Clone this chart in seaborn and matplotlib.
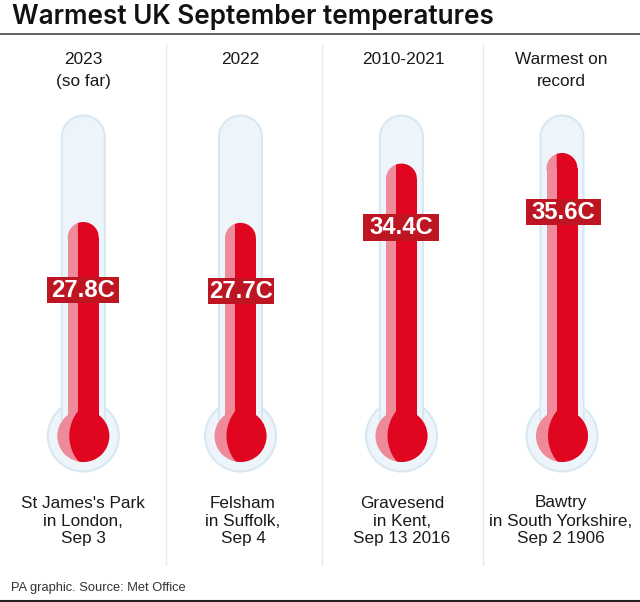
import numpy as np
import pandas as pd
import seaborn as sns
import matplotlib
matplotlib.use("Agg")
import matplotlib.pyplot as plt
from matplotlib.patches import Circle, PathPatch, Polygon, Rectangle
from matplotlib.path import Path
from matplotlib.transforms import Affine2D

# ---- data ----
periods = ["2023\n(so far)", "2022", "2010-2021", "Warmest on\nrecord"]
temps = [27.8, 27.7, 34.4, 35.6]
temp_labels = ["27.8C", "27.7C", "34.4C", "35.6C"]
places = ["St James's Park\nin London,\nSep 3", "Felsham\nin Suffolk,\nSep 4",
          "Gravesend\nin Kent,\nSep 13 2016", "Bawtry\nin South Yorkshire,\nSep 2 1906"]
title = "Warmest UK September temperatures"
source = "PA graphic. Source: Met Office"

# ---- layout (pixels) ----
W, H = 640, 602
centers = [83.3, 240.5, 401.5, 562]
header_x = [83, 240.5, 403, 561]
footer_x = [83, 243, 402, 561]
box_x = [83, 241, 401, 563.5]
box_y = [290, 291, 227.5, 212]
box_w = [72, 66, 76, 75]
dividers = [166, 322, 482.7]
PX_PER_DEG = 8.85
Y_278 = 222
Y_NECK = 416
R = 15.5
RED, PINK, DARK = "#e1061f", "#ee8a99", "#bd1622"
GLASS, EDGE = "#edf4fa", "#d8e8f3"
INK = "#1a1a1a"

sns.set_theme(style="white")
plt.rcParams["font.family"] = ["Liberation Sans", "DejaVu Sans"]
fig = plt.figure(figsize=(W / 100, H / 100), dpi=100, facecolor="white")
ax = fig.add_axes([0, 0, 1, 1])
ax.patch.set_alpha(0)
px = Affine2D().scale(1, -1).translate(0, H)  # pixel (top-left) -> display


def rounded(x0, x1, ytop, ybot):
    r = (x1 - x0) / 2
    k = 0.5523 * r
    verts = [(x0, ybot), (x0, ytop + r), (x0, ytop + r - k), (x0 + r - k, ytop), (x0 + r, ytop),
             (x0 + r + k, ytop), (x1, ytop + r - k), (x1, ytop + r), (x1, ybot), (x0, ybot)]
    codes = [Path.MOVETO, Path.LINETO, Path.CURVE4, Path.CURVE4, Path.CURVE4,
             Path.CURVE4, Path.CURVE4, Path.CURVE4, Path.LINETO, Path.CLOSEPOLY]
    return Path(verts, codes)


def cap_polygon(c, top, xa, xb):
    """Part of the semicircular cap between pixel columns xa and xb."""
    xs = np.linspace(xa, xb, 40) - c
    ys = top + R - np.sqrt(np.maximum(R ** 2 - xs ** 2, 0))
    return list(zip(xs + c, ys)) + [(xb, top + R + 2), (xa, top + R + 2)]


def temp_at(y_pixel):
    return 27.8 + (Y_278 - y_pixel) / PX_PER_DEG


# dividers + glass, drawn beneath the bars
for d in dividers:
    ax.add_line(plt.Line2D([d, d], [44, 565], color="#dfecf5", lw=1.0, transform=px, zorder=0))
for c in centers:
    ax.add_patch(Circle((c, 436), 35.5, fc=GLASS, ec=EDGE, lw=1.5, transform=px, zorder=1))
    ax.add_patch(PathPatch(rounded(c - 21.5, c + 21.5, 115.5, 420), fc=GLASS, ec=EDGE, lw=1.5, transform=px, zorder=1))
    ax.add_patch(Rectangle((c - 20.7, 400), 41.4, 32, fc=GLASS, ec="none", transform=px, zorder=1.1))

# bars through seaborn on a temperature scale
df = pd.DataFrame({"x": centers, "temp": temps})
sns.barplot(data=df, x="x", y="temp", native_scale=True, width=31 / 157.2, color=RED,
            saturation=1, ax=ax, zorder=3, linewidth=0)
ax.set_xlim(0, W)
ax.set_ylim(temp_at(H), temp_at(0))
ax.axis("off")

for c, bar, t in zip(centers, ax.patches[-4:], temps):
    top = Y_278 - (t - 27.8) * PX_PER_DEG
    # the bar runs from the bulb's neck to where the rounded cap starts
    bar.set_y(temp_at(Y_NECK))
    bar.set_height(t - R / PX_PER_DEG - temp_at(Y_NECK))
    split = c - 5.5
    ax.add_patch(Polygon(cap_polygon(c, top, c - R, split), fc=PINK, ec="none", transform=px, zorder=3.5))
    ax.add_patch(Polygon(cap_polygon(c, top, split, c + R), fc=RED, ec="none", transform=px, zorder=3.5))
    ax.add_patch(Rectangle((c - R, top + R), 10, Y_NECK - top - R, fc=PINK, ec="none", transform=px, zorder=3.5))
    ax.add_patch(Circle((c, 436), 26, fc=PINK, ec="none", transform=px, zorder=4))
    dark = Circle((c, 436), 26, fc=RED, ec="none", transform=px, zorder=5)
    ax.add_patch(dark)
    mask = Circle((c + 26, 436), 40, transform=px, fc="none", ec="none")
    ax.add_patch(mask)
    dark.set_clip_path(mask)
    ax.add_patch(Rectangle((split, 400), 21, Y_NECK - 400 + 1, fc=RED, ec="none", transform=px, zorder=5))

# labels
for i, (c, p, lab, place) in enumerate(zip(centers, periods, temp_labels, places)):
    ax.add_patch(Rectangle((box_x[i] - box_w[i] / 2, box_y[i] - 13.2), box_w[i], 26.4, fc=DARK, ec="none",
                           transform=px, zorder=6))
    ax.text(box_x[i], box_y[i] + 0.5, lab, transform=px, ha="center", va="center", color="white",
            fontsize=17.2, fontweight="bold", zorder=7)
    ax.text(header_x[i], 52, p, transform=px, ha="center", va="top", color=INK,
            fontsize=12.4, linespacing=1.62, zorder=8)
    ax.text(footer_x[i], 495.5, place, transform=px, ha="center", va="top", color=INK, fontsize=12.3,
            linespacing=1.25, zorder=8)

ax.text(12, 24.5, title, transform=px, ha="left", va="baseline", color="#111111", fontsize=18.8,
        family=["Inter", "DejaVu Sans"], fontweight=600)
ax.add_line(plt.Line2D([0, W], [33.5, 33.5], color="#444444", lw=1.2, transform=px))
ax.text(11, 588, source, transform=px, ha="left", va="center", color="#333333", fontsize=9.25)
ax.add_line(plt.Line2D([0, W], [600.7, 600.7], color="#222222", lw=1.5, transform=px))

fig.savefig("out.png", dpi=100)
